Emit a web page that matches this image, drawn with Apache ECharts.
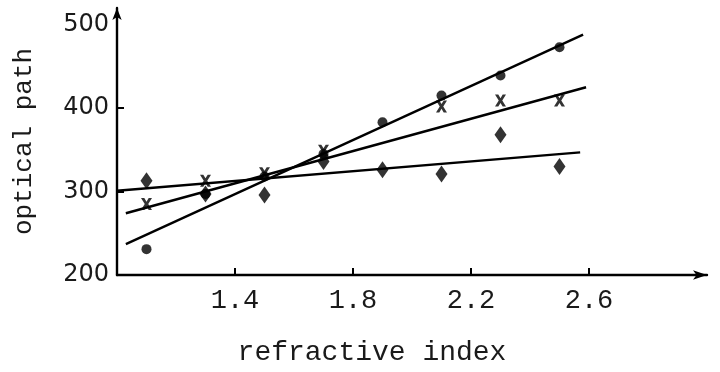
<!DOCTYPE html>
<html>
<head>
<meta charset="utf-8">
<script src="https://cdn.jsdelivr.net/npm/echarts@6/dist/echarts.min.js"></script>
<style>
html,body{margin:0;padding:0;background:#fff;}
#main{width:720px;height:372px;}
</style>
</head>
<body>
<div id="main"></div>
<script>
var xVals=[1.1,1.3,1.5,1.7,1.9,2.1,2.3,2.5];
var dotY=[231,297,318,345,383,415,439,473];
var crossY=[285,313,322,349,null,402,409,409];
var diamondY=[313,297,296,336,326,321,368,330];

// fitted lines (start / end)
var steepX=[1.03,2.58], steepY=[237,488];
var midX=[1.03,2.59], midY=[274,425];
var flatX=[1.0,2.57], flatY=[301,347];

var xTicks=[1.4,1.8,2.2,2.6];
var yTicks=[200,300,400,500];

var ink="#000";
var textInk="#1a1a1a";
var monoFont="Liberation Mono";

var pairs=function(xs,ys){
  var out=[];
  for(var i=0;i<xs.length;i++){
    if(ys[i]!=null) out.push([xs[i],ys[i]]);
  }
  return out;
}

var crossPath="path://M0,0 L3,0 L5,3 L7,0 L10,0 L6.6,5 L10,10 L7,10 L5,7 L3,10 L0,10 L3.4,5 Z";

var lineSeries=function(xs,ys){
  return {
    type:'line',
    data:pairs(xs,ys),
    symbol:'none',
    silent:true,
    lineStyle:{color:ink,width:2.4}
  };
}

var myChart=echarts.init(document.getElementById('main'));
var option={
  backgroundColor:'#fff',
  animation:false,
  grid:{left:117,right:13,top:8,bottom:94},
  xAxis:{
    type:'value',
    min:1.0,
    max:3.0,
    name:'refractive index',
    nameLocation:'middle',
    nameGap:64,
    nameTextStyle:{fontFamily:monoFont,fontSize:28,color:textInk,padding:[0,80,0,0]},
    axisLine:{show:true,lineStyle:{color:ink,width:2.4},symbol:['none','arrow'],symbolSize:[7,14]},
    axisTick:{show:true,inside:true,length:7,lineStyle:{color:ink,width:2},customValues:xTicks},
    axisLabel:{fontFamily:monoFont,fontSize:27,color:textInk,margin:12,customValues:xTicks,
      formatter:function(v){return v.toFixed(1);}},
    splitLine:{show:false}
  },
  yAxis:{
    type:'value',
    min:200,
    max:520,
    interval:100,
    name:'optical path',
    nameLocation:'middle',
    nameGap:80,
    nameTextStyle:{fontFamily:monoFont,fontSize:26,color:textInk},
    axisLine:{show:true,lineStyle:{color:ink,width:2.4},symbol:['none','arrow'],symbolSize:[7,12]},
    axisTick:{show:true,inside:true,length:7,lineStyle:{color:ink,width:2},customValues:[300,400]},
    axisLabel:{fontFamily:'DejaVu Sans',fontSize:24,color:textInk,margin:8,customValues:yTicks},
    splitLine:{show:false}
  },
  series:[
    lineSeries(steepX,steepY),
    lineSeries(midX,midY),
    lineSeries(flatX,flatY),
    {
      type:'scatter',
      data:pairs(xVals,dotY),
      symbol:'circle',
      symbolSize:10,
      itemStyle:{color:ink}
    },
    {
      type:'scatter',
      data:pairs(xVals,crossY),
      symbol:crossPath,
      symbolSize:[11,12],
      itemStyle:{color:ink}
    },
    {
      type:'scatter',
      data:pairs(xVals,diamondY),
      symbol:'diamond',
      symbolSize:[12,17],
      itemStyle:{color:ink}
    }
  ]
};
myChart.setOption(option);
</script>
</body>
</html>
